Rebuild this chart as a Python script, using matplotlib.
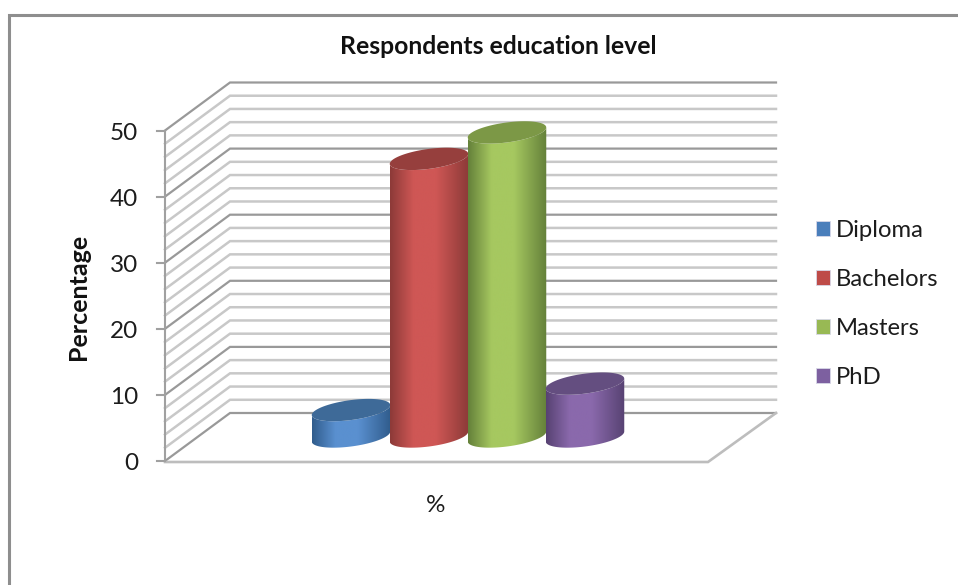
import numpy as np
import matplotlib
matplotlib.use("Agg")
import matplotlib.pyplot as plt
from matplotlib.colors import LinearSegmentedColormap
from matplotlib.patches import Patch, PathPatch
from matplotlib.path import Path

plt.rcParams["font.family"] = ["Lato", "DejaVu Sans"]

# Chart data
categories = ["Diploma", "Bachelors", "Masters", "PhD"]
values = [4, 42, 46, 8]
y_ticks = [0, 10, 20, 30, 40, 50]
grid_step = 2
title = "Respondents education level"
y_label = "Percentage"
x_label = "%"

# Colours per series: edge shade, highlight, cap, legend swatch
edge_colors = ["#305c8c", "#8c3a38", "#64803a", "#574272"]
light_colors = ["#5a90d0", "#cf5755", "#a6c860", "#8a69ac"]
cap_colors = ["#3e6a98", "#963f3d", "#7c9846", "#644e80"]
swatch_colors = ["#4a7ebb", "#be4b48", "#98b954", "#7d60a0"]

# Oblique projection of the 3D box, in figure pixels
FRONT_X, BACK_X, RIGHT_BACK_X, RIGHT_FRONT_X = 165, 230, 776, 708
FRONT_Y0, BACK_Y0 = 461, 413
PX_PER_UNIT = 6.61
FLOOR_FRONT_Y = 462


def front_y(v):
    return FRONT_Y0 - v * PX_PER_UNIT


def back_y(v):
    return BACK_Y0 - v * PX_PER_UNIT


def mid_y(v):
    # Cylinders stand half way between the front edge and the back wall
    return (FRONT_Y0 + BACK_Y0) / 2 - 0.5 - v * PX_PER_UNIT


fig = plt.figure(figsize=(9.58, 5.85), dpi=100, facecolor="white")
ax = fig.add_axes([0, 0, 1, 1])
ax.set_xlim(0, 958)
ax.set_ylim(585, 0)
ax.axis("off")

# Chart-area frame, open towards the right and bottom
ax.plot([9.5, 9.5, 958], [585, 15, 15], color="#8e8e8e", lw=2.2,
        solid_joinstyle="miter", zorder=1)

# Gridlines on the side wall and the back wall
for v in np.arange(0, y_ticks[-1] + grid_step, grid_step):
    major = v % 10 == 0
    color = "#999999" if major else "#c8c8c8"
    lw = 1.6 if major else 1.8
    ax.plot([FRONT_X, BACK_X, RIGHT_BACK_X], [front_y(v), back_y(v), back_y(v)],
            color=color, lw=lw, solid_joinstyle="miter", zorder=2)

# Floor edges
ax.plot([FRONT_X, RIGHT_FRONT_X, RIGHT_BACK_X],
        [FLOOR_FRONT_Y, FLOOR_FRONT_Y, BACK_Y0],
        color="#bdbdbd", lw=1.9, solid_joinstyle="miter", zorder=2)

# Value axis with outward ticks
ax.plot([FRONT_X, FRONT_X], [front_y(0), front_y(y_ticks[-1])],
        color="#a0a0a0", lw=1.5, zorder=3)
for v in y_ticks:
    ax.plot([FRONT_X - 8, FRONT_X], [front_y(v), front_y(v)],
            color="#a0a0a0", lw=1.5, zorder=3)
    ax.text(138, front_y(v) + 2.5, str(v), ha="right", va="center", fontsize=17.5,
            color="#1c1c1c")

# Cylinders
BAR_WIDTH = 78.5
BAR_SPACING = 78
FIRST_CX = 351
SHEAR = 5
MINOR = 10
t = np.linspace(0, 2 * np.pi, 121)


def ellipse(cx, cy, angle):
    x = cx + BAR_WIDTH / 2 * np.cos(angle)
    y = cy - SHEAR * np.cos(angle) - MINOR * np.sin(angle)
    return x, y


for i, (value, edge, light, cap) in enumerate(
        zip(values, edge_colors, light_colors, cap_colors)):
    cx = FIRST_CX + i * BAR_SPACING
    y_base, y_top = mid_y(0), mid_y(value)
    z = 5 + i

    # Side wall: the lower half of the base, then back along the top ellipse
    low = np.linspace(np.pi, 2 * np.pi, 60)
    bx, by = ellipse(cx, y_base, low)
    tx, ty = ellipse(cx, y_top, low[::-1])
    verts = np.column_stack([np.r_[bx, tx], np.r_[by, ty]])
    clip = PathPatch(Path(np.vstack([verts, verts[0]])), transform=ax.transData,
                     fc="none", ec="none")
    ax.add_patch(clip)
    cmap = LinearSegmentedColormap.from_list(
        f"side{i}", [(0, edge), (0.3, light), (0.58, light), (1, edge)])
    grad = np.linspace(0, 1, 256).reshape(1, -1)
    im = ax.imshow(grad, cmap=cmap, aspect="auto", zorder=z,
                   extent=[cx - BAR_WIDTH / 2, cx + BAR_WIDTH / 2, by.max() + 1, ty.min() - 1],
                   interpolation="bilinear")
    im.set_clip_path(clip)

    # Cap
    ex, ey = ellipse(cx, y_top, t)
    ax.fill(ex, ey, color=cap, lw=0, zorder=z + 0.5)

# imshow resets the limits, so they are set again for the pixel frame
ax.set_xlim(0, 958)
ax.set_ylim(585, 0)

# Titles
ax.text(498, 46, title, ha="center", va="center", fontsize=17.8,
        fontweight="bold", color="#111111")
ax.text(79, 297, y_label, ha="center", va="center", rotation=90, fontsize=18,
        fontweight="bold", color="#111111")
ax.text(436, 505, x_label, ha="center", va="center", fontsize=17.5,
        color="#1c1c1c")

# Legend
handles = [Patch(facecolor=c, edgecolor="#d8d8e8", lw=0.6) for c in swatch_colors]
ax.legend(handles, categories, loc="center left",
          bbox_to_anchor=(816 / 958, 1 - 304 / 585), frameon=False, fontsize=17.2,
          labelcolor="#1c1c1c", handlelength=0.6, handleheight=0.6,
          handletextpad=0.22, labelspacing=1.18, borderpad=0, borderaxespad=0)

fig.savefig("out.png", dpi=100, facecolor="white")
